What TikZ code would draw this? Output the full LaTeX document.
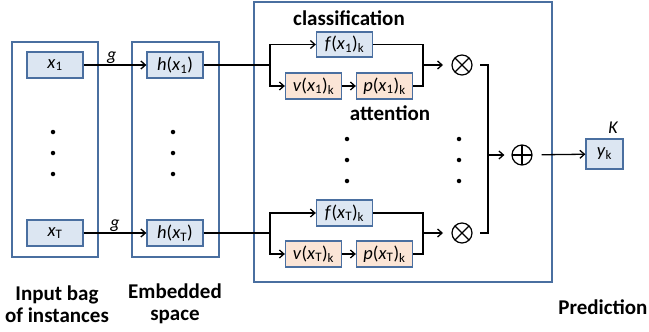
\documentclass[tikz,border=0pt]{standalone}
\usepackage{fontspec}
\setmainfont{Carlito}
\usetikzlibrary{arrows.meta}
\definecolor{bfill}{HTML}{DCE6F2}
\definecolor{bdraw}{HTML}{4A6FA0}
\definecolor{ofill}{HTML}{FBE5D6}
\newcommand{\ti}[1]{\textit{#1}}
\newcommand{\sbs}[1]{\textsubscript{#1}}
\tikzset{
  ln/.style={line width=1.3pt, black},
  arr/.style={ln, -{Straight Barb[length=4.5pt,width=8pt,line width=1.3pt]}},
  bbox/.style={draw=bdraw, fill=bfill, line width=1.3pt, minimum width=56pt, minimum height=26pt, inner sep=0pt, font=\fontsize{18.5}{20}\selectfont},
  obox/.style={bbox, fill=ofill},
  outer/.style={draw=bdraw, line width=1.5pt},
  lbl/.style={font=\fontsize{21}{25}\selectfont\bfseries, align=center},
  sm/.style={font=\fontsize{18}{20}\selectfont\itshape, inner sep=1pt},
  otimes/.style={circle, draw, line width=1.2pt, minimum size=20pt, inner sep=0pt,
    path picture={\draw[line width=1.2pt] (path picture bounding box.south west) -- (path picture bounding box.north east)
      (path picture bounding box.north west) -- (path picture bounding box.south east);}},
  oplus/.style={circle, draw, line width=1.2pt, minimum size=20pt, inner sep=0pt,
    path picture={\draw[line width=1.2pt] (path picture bounding box.south) -- (path picture bounding box.north)
      (path picture bounding box.west) -- (path picture bounding box.east);}},
  dot/.style={circle, fill=black, inner sep=0pt, minimum size=4.5pt}
}
\begin{document}
\begin{tikzpicture}[x=1pt, y=-1pt]
\useasboundingbox (0,0) rectangle (649,332);
% outer boxes
\draw[outer] (12,42) rectangle (98,257);
\draw[outer] (132,42) rectangle (219,257);
\draw[outer] (254,2) rectangle (552,282);
% left column
\node[bbox] (x1) at (55,65) {\ti{x}\sbs{1}};
\node[bbox] (xT) at (55,233) {\ti{x}\sbs{T}};
\node[bbox] (h1) at (175,65) {\ti{h}(\ti{x}\sbs{1})};
\node[bbox] (hT) at (175,233) {\ti{h}(\ti{x}\sbs{T})};
\foreach \yy [count=\i] in {132,153,174} {
  \node[dot] (dl\i) at (53,\yy) {};
  \node[dot] (dh\i) at (173,\yy) {};
}
\draw[arr] (x1) -- node[sm, above, pos=0.45] {g} (h1);
\draw[arr] (xT) -- node[sm, above, pos=0.5] {g} (hT);
% top group
\node[bbox, minimum height=25pt] (f1) at (344.5,44.5) {\ti{f}(\ti{x}\sbs{1})\sbs{k}};
\node[obox] (v1) at (313.5,86) {\ti{v}(\ti{x}\sbs{1})\sbs{k}};
\node[obox] (p1) at (384.5,86) {\ti{p}(\ti{x}\sbs{1})\sbs{k}};
\coordinate (br1) at (270,65);
\coordinate (j1) at (423,65);
\coordinate (a1) at (443,65);
\node[otimes] (m1) at (462,65) {};
\draw[ln] (h1.east) -- (br1);
\draw[arr] (br1) |- (f1.west);
\draw[arr] (br1) |- (v1.west);
\draw[arr] (v1) -- (p1);
\draw[ln] (f1.east) -| (j1);
\draw[ln] (p1.east) -| (j1);
\draw[arr] (j1) -- (a1);
% bottom group
\node[bbox] (fT) at (344.5,213) {\ti{f}(\ti{x}\sbs{T})\sbs{k}};
\node[obox] (vT) at (313.5,254) {\ti{v}(\ti{x}\sbs{T})\sbs{k}};
\node[obox] (pT) at (384.5,254) {\ti{p}(\ti{x}\sbs{T})\sbs{k}};
\coordinate (brT) at (270,233);
\coordinate (jT) at (423,233);
\coordinate (aT) at (443,233);
\node[otimes] (mT) at (462,233) {};
\draw[ln] (hT.east) -- (brT);
\draw[arr] (brT) |- (fT.west);
\draw[arr] (brT) |- (vT.west);
\draw[arr] (vT) -- (pT);
\draw[ln] (fT.east) -| (jT);
\draw[ln] (pT.east) -| (jT);
\draw[arr] (jT) -- (aT);
% middle dots
\foreach \yy [count=\i] in {139,160,181} {
  \node[dot] (dm\i) at (347,\yy) {};
  \node[dot] (dr\i) at (459,\yy) {};
}
% labels
\node[lbl] (cls) at (349,18) {classification};
\node[lbl] (att) at (390,113) {attention};
% bracket and sum
\coordinate (b1s) at (480,65);
\coordinate (b1) at (488,65);
\coordinate (bTs) at (480,233);
\coordinate (bT) at (488,233);
\coordinate (bm) at (488,155);
\draw[ln] (b1s) -- (b1) -- (bT) -- (bTs);
\node[oplus] (sum) at (522,155) {};
\draw[arr, shorten >=7pt] (bm) -- (sum);
\node[bbox, minimum width=37pt, minimum height=30pt] (yk) at (604.5,154) {\ti{y}\sbs{k}};
\draw[arr, shorten <=9pt] (sum) -- (yk);
\node[sm] (K) at (613,128) {K};
% bottom labels
\node[lbl] (lin) at (57,304) {Input bag\\[-3pt]of instances};
\node[lbl] (lem) at (175,304) {Embedded\\[-3pt]space};
\node[lbl] (lpr) at (603,307) {Prediction};
\end{tikzpicture}
\end{document}
